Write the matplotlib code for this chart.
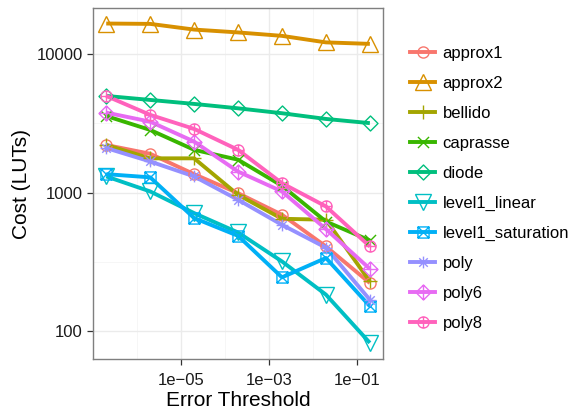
import numpy as np
import matplotlib
matplotlib.use("Agg")
import matplotlib.pyplot as plt
from matplotlib.path import Path
from matplotlib.lines import Line2D
from matplotlib.ticker import FixedLocator, FixedFormatter, NullFormatter

plt.rcParams['font.family'] = ['Liberation Sans', 'DejaVu Sans']

# error thresholds (x) and LUT cost per method (y)
thresholds = [2e-7, 2e-6, 2e-5, 2e-4, 2e-3, 2e-2, 2e-1]

methods = ["approx1", "approx2", "bellido", "caprasse", "diode",
           "level1_linear", "level1_saturation", "poly", "poly6", "poly8"]

approx1 = [2210, 1910, 1360, 991, 692, 408, 222]
approx2 = [16700, 16600, 15100, 14400, 13600, 12200, 11900]
bellido = [2210, 1770, 1770, 964, 647, 637, 228]
caprasse = [3580, 2840, 2040, 1730, 1120, 618, 451]
diode = [5000, 4680, 4380, 4070, 3750, 3410, 3180]
level1_linear = [1310, 1020, 711, 515, 318, 183, 82]
level1_saturation = [1360, 1290, 655, 487, 244, 337, 151]
poly = [2100, 1680, 1310, 888, 585, 400, 168]
poly6 = [3790, 3260, 2340, 1420, 1020, 545, 281]
poly8 = [5000, 3650, 2890, 2040, 1170, 795, 408]

costs = [approx1, approx2, bellido, caprasse, diode,
         level1_linear, level1_saturation, poly, poly6, poly8]

colors = ["#F8766D", "#D89000", "#A3A500", "#39B600", "#00BF7D",
          "#00BFC4", "#00B0F6", "#9590FF", "#E76BF3", "#FF62BC"]

M, L = Path.MOVETO, Path.LINETO


def seg(p0, p1):
    return Path([p0, p1], [M, L])


# ggplot-like shapes 1..10 built as stroked paths
diamond = Path([(0, 1), (1, 0), (0, -1), (-1, 0), (0, 1)], [M, L, L, L, Path.CLOSEPOLY])
square = Path([(-1, -1), (1, -1), (1, 1), (-1, 1), (-1, -1)], [M, L, L, L, Path.CLOSEPOLY])
plus = Path.make_compound_path(seg((-1, 0), (1, 0)), seg((0, -1), (0, 1)))
cross = Path.make_compound_path(seg((-1, -1), (1, 1)), seg((-1, 1), (1, -1)))
asterisk = Path.make_compound_path(plus, seg((-0.72, -0.72), (0.72, 0.72)),
                                   seg((-0.72, 0.72), (0.72, -0.72)))
circ_plus = Path.make_compound_path(Path.unit_circle(), plus)
diam_plus = Path.make_compound_path(diamond, plus)
sq_cross = Path.make_compound_path(square, cross)

markers = ['o', '^', plus, cross, diamond, 'v', sq_cross, asterisk, diam_plus, circ_plus]
msizes = [8, 11.5, 10, 8, 10.8, 11, 8, 8.5, 10.8, 8]

fig = plt.figure(figsize=(5.75, 4.11), dpi=100)
ax = fig.add_axes([93 / 575, 1 - 359 / 411, 290 / 575, 351 / 411])

ax.set_xscale('log')
ax.set_yscale('log')

# lines first, then points on top (like geom_line + geom_point)
for vals, col in zip(costs, colors):
    ax.plot(thresholds, vals, color=col, lw=2.8, solid_capstyle='butt', zorder=3)
for vals, col, mk, ms in zip(costs, colors, markers, msizes):
    ax.plot(thresholds, vals, ls='none', marker=mk, ms=ms, mfc='none',
            mec=col, mew=1.0, zorder=4)

ax.set_xlim(10 ** -7.0, 10 ** -0.40)
ax.set_ylim(10 ** 1.797, 10 ** 4.335)

ax.xaxis.set_major_locator(FixedLocator([1e-5, 1e-3, 1e-1]))
ax.xaxis.set_major_formatter(FixedFormatter(["1e\u221205", "1e\u221203", "1e\u221201"]))
ax.xaxis.set_minor_locator(FixedLocator([1e-6, 1e-4, 1e-2]))
ax.xaxis.set_minor_formatter(NullFormatter())
ax.yaxis.set_major_locator(FixedLocator([100, 1000, 10000]))
ax.yaxis.set_major_formatter(FixedFormatter(["100", "1000", "10000"]))
ax.yaxis.set_minor_locator(FixedLocator([10 ** 2.5, 10 ** 3.5]))
ax.yaxis.set_minor_formatter(NullFormatter())

ax.grid(True, which='major', color='#EBEBEB', lw=1.0, zorder=0)
ax.grid(True, which='minor', color='#F6F6F6', lw=0.7, zorder=0)
ax.set_axisbelow(True)

ax.tick_params(which='major', length=4.5, width=0.9, color='#333333',
               labelsize=12, labelcolor='#1A1A1A', pad=3)
ax.tick_params(axis='x', which='major', pad=5.5)
ax.tick_params(which='minor', length=0)
for sp in ax.spines.values():
    sp.set_color('#7F7F7F')
    sp.set_linewidth(1.0)

ax.set_xlabel("Error Threshold", fontsize=15, labelpad=2.5)
ax.set_ylabel("Cost (LUTs)", fontsize=15, labelpad=4)

handles = [Line2D([], [], color=col, lw=2.8, marker=mk, ms=ms, mfc='none', mec=col, mew=1.0)
           for col, mk, ms in zip(colors, markers, msizes)]
fig.legend(handles, methods, loc='upper left', bbox_to_anchor=(410 / 575, 1 - 46 / 411),
           frameon=False, fontsize=12, borderpad=0, borderaxespad=0, handlelength=1.5,
           handletextpad=0.45, labelspacing=0.9)

fig.savefig("out.png", dpi=100)
